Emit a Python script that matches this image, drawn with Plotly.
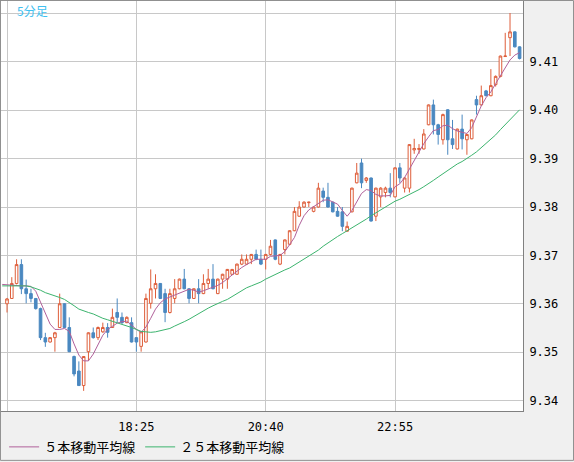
import pandas as pd
import plotly.graph_objects as go

# 5分足: 16:05 の点は移動平均線だけ (ローソク足は 16:10 から)
times = pd.date_range("2024-06-03 16:05", periods=109, freq="5min")
bar_times = times[1:]

open_ = [9.3600, 9.3611, 9.3642, 9.3681, 9.3631, 9.3621, 9.3611, 9.3590, 9.3530, 9.3521,
         9.3530, 9.3551, 9.3600, 9.3551, 9.3491, 9.3461, 9.3431, 9.3501, 9.3540, 9.3530,
         9.3542, 9.3551, 9.3551, 9.3582, 9.3572, 9.3561, 9.3561, 9.3530, 9.3512, 9.3521,
         9.3601, 9.3631, 9.3642, 9.3621, 9.3582, 9.3611, 9.3631, 9.3651, 9.3631, 9.3611,
         9.3631, 9.3621, 9.3642, 9.3651, 9.3621, 9.3651, 9.3651, 9.3661, 9.3661, 9.3682,
         9.3682, 9.3692, 9.3702, 9.3692, 9.3692, 9.3702, 9.3732, 9.3682, 9.3712, 9.3723,
         9.3751, 9.3781, 9.3800, 9.3809, 9.3791, 9.3800, 9.3833, 9.3820, 9.3810, 9.3791,
         9.3790, 9.3750, 9.3790, 9.3850, 9.3891, 9.3855, 9.3860, 9.3781, 9.3821, 9.3830,
         9.3839, 9.3821, 9.3881, 9.3839, 9.3839, 9.3918, 9.3919, 9.3920, 9.3970, 9.4011,
         9.3970, 9.3939, 9.4001, 9.3941, 9.3920, 9.3961, 9.3939, 9.3941, 9.4022, 9.4011,
         9.4040, 9.4030, 9.4053, 9.4070, 9.4111, 9.4150, 9.4162, 9.4131]
high = [9.3612, 9.3655, 9.3692, 9.3692, 9.3650, 9.3631, 9.3612, 9.3592, 9.3540, 9.3531,
        9.3542, 9.3621, 9.3601, 9.3572, 9.3493, 9.3481, 9.3492, 9.3541, 9.3551, 9.3553,
        9.3561, 9.3560, 9.3590, 9.3611, 9.3582, 9.3574, 9.3572, 9.3531, 9.3543, 9.3621,
        9.3671, 9.3661, 9.3643, 9.3631, 9.3631, 9.3651, 9.3652, 9.3672, 9.3632, 9.3632,
        9.3651, 9.3661, 9.3672, 9.3682, 9.3652, 9.3662, 9.3672, 9.3672, 9.3683, 9.3702,
        9.3702, 9.3703, 9.3712, 9.3712, 9.3703, 9.3732, 9.3733, 9.3703, 9.3733, 9.3752,
        9.3800, 9.3812, 9.3812, 9.3811, 9.3801, 9.3850, 9.3840, 9.3850, 9.3811, 9.3800,
        9.3800, 9.3770, 9.3840, 9.3891, 9.3900, 9.3862, 9.3861, 9.3840, 9.3841, 9.3842,
        9.3870, 9.3882, 9.3891, 9.3862, 9.3930, 9.3941, 9.3930, 9.3961, 9.4012, 9.4022,
        9.3972, 9.3993, 9.4002, 9.3980, 9.3962, 9.3991, 9.3951, 9.3981, 9.4030, 9.4051,
        9.4042, 9.4085, 9.4072, 9.4113, 9.4160, 9.4201, 9.4163, 9.4132]
low = [9.3582, 9.3610, 9.3640, 9.3620, 9.3601, 9.3603, 9.3588, 9.3525, 9.3511, 9.3520,
       9.3501, 9.3550, 9.3550, 9.3500, 9.3450, 9.3430, 9.3420, 9.3482, 9.3528, 9.3525,
       9.3540, 9.3530, 9.3550, 9.3561, 9.3558, 9.3560, 9.3520, 9.3501, 9.3501, 9.3520,
       9.3590, 9.3611, 9.3610, 9.3562, 9.3580, 9.3601, 9.3630, 9.3630, 9.3601, 9.3610,
       9.3601, 9.3620, 9.3631, 9.3630, 9.3620, 9.3631, 9.3631, 9.3660, 9.3660, 9.3680,
       9.3680, 9.3682, 9.3690, 9.3680, 9.3671, 9.3700, 9.3690, 9.3680, 9.3702, 9.3721,
       9.3750, 9.3780, 9.3799, 9.3800, 9.3789, 9.3799, 9.3810, 9.3799, 9.3789, 9.3780,
       9.3750, 9.3749, 9.3789, 9.3849, 9.3839, 9.3850, 9.3770, 9.3771, 9.3800, 9.3820,
       9.3820, 9.3820, 9.3850, 9.3830, 9.3830, 9.3910, 9.3910, 9.3919, 9.3969, 9.3950,
       9.3929, 9.3929, 9.3908, 9.3920, 9.3919, 9.3919, 9.3908, 9.3940, 9.3991, 9.4010,
       9.4029, 9.4029, 9.4049, 9.4068, 9.4110, 9.4112, 9.4130, 9.4105]
close = [9.3610, 9.3642, 9.3681, 9.3631, 9.3621, 9.3611, 9.3590, 9.3530, 9.3521, 9.3530,
         9.3540, 9.3600, 9.3551, 9.3501, 9.3455, 9.3431, 9.3491, 9.3540, 9.3530, 9.3551,
         9.3551, 9.3541, 9.3572, 9.3572, 9.3561, 9.3572, 9.3521, 9.3521, 9.3542, 9.3611,
         9.3631, 9.3642, 9.3611, 9.3582, 9.3621, 9.3631, 9.3651, 9.3631, 9.3611, 9.3631,
         9.3621, 9.3642, 9.3651, 9.3631, 9.3651, 9.3661, 9.3671, 9.3671, 9.3682, 9.3692,
         9.3692, 9.3702, 9.3692, 9.3682, 9.3702, 9.3719, 9.3692, 9.3702, 9.3732, 9.3751,
         9.3791, 9.3800, 9.3810, 9.3810, 9.3800, 9.3839, 9.3820, 9.3800, 9.3790, 9.3781,
         9.3760, 9.3760, 9.3839, 9.3870, 9.3850, 9.3860, 9.3771, 9.3839, 9.3839, 9.3839,
         9.3830, 9.3881, 9.3860, 9.3860, 9.3929, 9.3921, 9.3921, 9.3951, 9.4011, 9.3970,
         9.3950, 9.3991, 9.3939, 9.3929, 9.3961, 9.3941, 9.3950, 9.3980, 9.4011, 9.4030,
         9.4030, 9.4051, 9.4070, 9.4112, 9.4112, 9.4162, 9.4131, 9.4107]

ma5 = [9.3640, 9.3639, 9.3638, 9.3637, 9.3637, 9.3637, 9.3636, 9.3626, 9.3603, 9.3580,
       9.3558, 9.3547, 9.3547, 9.3549, 9.3543, 9.3517, 9.3494, 9.3482, 9.3482, 9.3496,
       9.3517, 9.3535, 9.3547, 9.3554, 9.3560, 9.3563, 9.3564, 9.3556, 9.3547, 9.3541,
       9.3552, 9.3570, 9.3589, 9.3602, 9.3610, 9.3614, 9.3618, 9.3623, 9.3627, 9.3630,
       9.3628, 9.3624, 9.3627, 9.3631, 9.3635, 9.3638, 9.3644, 9.3652, 9.3659, 9.3667,
       9.3675, 9.3681, 9.3687, 9.3692, 9.3692, 9.3692, 9.3698, 9.3699, 9.3700, 9.3708,
       9.3723, 9.3737, 9.3762, 9.3782, 9.3794, 9.3801, 9.3808, 9.3814, 9.3815, 9.3811,
       9.3806, 9.3793, 9.3781, 9.3793, 9.3811, 9.3828, 9.3836, 9.3834, 9.3826, 9.3823,
       9.3823, 9.3824, 9.3842, 9.3848, 9.3861, 9.3879, 9.3898, 9.3914, 9.3931, 9.3945,
       9.3958, 9.3960, 9.3968, 9.3969, 9.3962, 9.3957, 9.3955, 9.3952, 9.3964, 9.3987,
       9.4009, 9.4026, 9.4038, 9.4055, 9.4072, 9.4089, 9.4104, 9.4114, 9.4119]
ma25 = [9.3637, 9.3637, 9.3637, 9.3637, 9.3637, 9.3637, 9.3635, 9.3632, 9.3628, 9.3623,
        9.3620, 9.3616, 9.3613, 9.3609, 9.3603, 9.3596, 9.3589, 9.3585, 9.3582, 9.3579,
        9.3574, 9.3570, 9.3567, 9.3564, 9.3561, 9.3558, 9.3555, 9.3551, 9.3547, 9.3543,
        9.3542, 9.3541, 9.3542, 9.3544, 9.3547, 9.3549, 9.3554, 9.3558, 9.3563, 9.3568,
        9.3574, 9.3580, 9.3586, 9.3591, 9.3596, 9.3601, 9.3605, 9.3609, 9.3615, 9.3622,
        9.3628, 9.3633, 9.3637, 9.3641, 9.3645, 9.3651, 9.3656, 9.3660, 9.3665, 9.3670,
        9.3674, 9.3680, 9.3687, 9.3693, 9.3698, 9.3704, 9.3711, 9.3719, 9.3726, 9.3733,
        9.3739, 9.3745, 9.3751, 9.3756, 9.3762, 9.3768, 9.3775, 9.3782, 9.3788, 9.3794,
        9.3800, 9.3806, 9.3812, 9.3816, 9.3821, 9.3826, 9.3830, 9.3836, 9.3842, 9.3848,
        9.3855, 9.3862, 9.3869, 9.3876, 9.3883, 9.3889, 9.3894, 9.3900, 9.3907, 9.3914,
        9.3923, 9.3930, 9.3939, 9.3949, 9.3960, 9.3970, 9.3980, 9.3991, 9.4001]

x_ticks = ["2024-06-03 16:10", "2024-06-03 18:25", "2024-06-03 20:40", "2024-06-03 22:55"]
x_labels = ["", "18:25", "20:40", "22:55"]
y_ticks = [9.34, 9.35, 9.36, 9.37, 9.38, 9.39, 9.40, 9.41, 9.42]
y_labels = ["9.34", "9.35", "9.36", "9.37", "9.38", "9.39", "9.40", "9.41", ""]

RED = "#de5e3a"
BLUE = "#4a88c0"
PURPLE = "#b0609a"
GREEN = "#3cb46e"
GRID = "#c8c8c8"
FONT = "DejaVu Sans Mono, Noto Sans CJK JP"

fig = go.Figure()
fig.add_trace(go.Candlestick(
    x=bar_times, open=open_, high=high, low=low, close=close,
    increasing=dict(line=dict(color=RED, width=1), fillcolor="white"),
    decreasing=dict(line=dict(color=BLUE, width=1), fillcolor=BLUE),
    whiskerwidth=0, showlegend=False, hoverinfo="skip",
))
fig.add_trace(go.Scatter(x=times, y=ma5, mode="lines", name="５本移動平均線",
                         line=dict(color=PURPLE, width=1)))
fig.add_trace(go.Scatter(x=times, y=ma25, mode="lines", name="２５本移動平均線",
                         line=dict(color=GREEN, width=1)))

fig.update_layout(
    width=574, height=462,
    margin=dict(l=1, r=51, t=1, b=50, pad=0),
    paper_bgcolor="#f0f0f0", plot_bgcolor="white",
    font=dict(family=FONT, size=12, color="black"),
    legend=dict(orientation="h", x=0.006, y=-0.085, xanchor="left", yanchor="middle",
                font=dict(family="Noto Sans CJK JP", size=13), bgcolor="rgba(0,0,0,0)"),
    boxgap=0.22,
    annotations=[dict(text="5分足", xref="paper", yref="paper", x=0.027, y=0.976,
                      xanchor="left", yanchor="middle", showarrow=False,
                      font=dict(family="Noto Sans CJK JP", size=12, color="#40c0f0"))],
    shapes=[dict(type="rect", xref="paper", yref="paper", x0=-0.001, x1=1.0968,
                 y0=-0.1204, y1=1.0012, line=dict(color="#909090", width=1))],
)
fig.update_xaxes(
    type="date", range=["2024-06-03 16:03:44", "2024-06-04 01:08:33"],
    tickvals=x_ticks, ticktext=x_labels, showgrid=True, gridcolor=GRID, gridwidth=1,
    showline=True, linecolor="#808080", linewidth=1, mirror=True,
    ticks="", ticklabelstandoff=5, rangeslider=dict(visible=False), zeroline=False,
)
fig.update_yaxes(
    side="right", range=[9.33784, 9.42258], tickvals=y_ticks, ticktext=y_labels,
    showgrid=True, gridcolor=GRID, gridwidth=1,
    showline=True, linecolor="#808080", linewidth=1, mirror=True,
    ticks="", ticklabelstandoff=3, zeroline=False,
)

# the page body has an 8px margin by default; drop it so the figure sits at 0,0
fig.write_html("out.html", config={"displayModeBar": False},
               post_script="document.body.style.margin='0';")
